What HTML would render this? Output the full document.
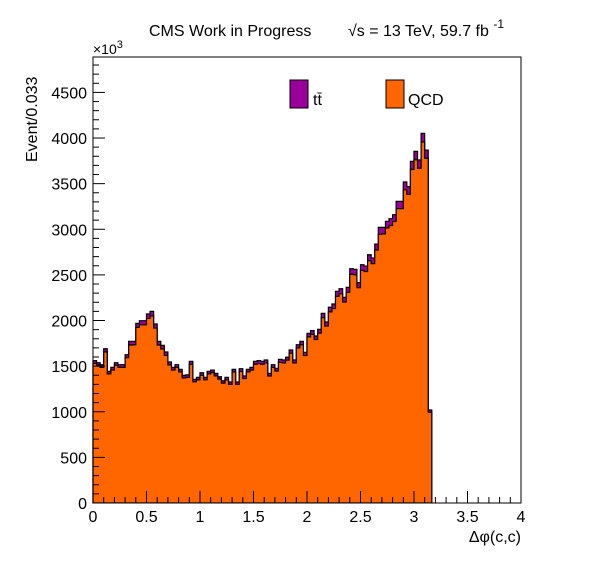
<!DOCTYPE html>
<html><head><meta charset="utf-8"><style>
body{margin:0;background:#fff}
svg{display:block;font-family:"Liberation Sans",sans-serif}
</style></head><body>
<svg id="c" width="596" height="572">
<rect width="596" height="572" fill="#fff"/>
<g id="plot"></g>
<rect x="93" y="57" width="428" height="446" fill="none" stroke="#000" stroke-width="1"/>
<g id="axes"></g>
<text x="149" y="36" font-size="16">CMS Work in Progress</text>
<text x="348" y="36" font-size="16">√s = 13 TeV, 59.7 fb <tspan dy="-8" font-size="12">-1</tspan></text>
<text x="93" y="54" font-size="14">×10<tspan dy="-6" font-size="11">3</tspan></text>
<text transform="translate(37,162) rotate(-90)" font-size="16">Event/0.033</text>
<text x="521" y="542" font-size="16" text-anchor="end">Δφ(c,c)</text>
<g>
<g><rect x="290" y="80" width="18" height="28" fill="#990099" stroke="#000"/><text x="313" y="105" font-size="16">tt̄</text></g>
<g><rect x="386" y="80" width="18" height="28" fill="#ff6600" stroke="#000"/><text x="408" y="105" font-size="16">QCD</text></g>
</g>
</svg>
<script>
const binWidth = 0.03333;
const totals = [1560,1538,1516,1691,1443,1487,1538,1516,1516,1625,1772,1772,1969,1998,1998,2071,2101,1962,1772,1728,1655,1545,1487,1516,1465,1399,1405,1553,1355,1377,1428,1377,1443,1457,1421,1384,1340,1377,1326,1465,1326,1472,1392,1465,1487,1553,1560,
1553,1567,1421,1516,1476,1574,1567,1597,1677,1567,1735,1772,1651,1859,1889,1830,1903,2079,1984,2145,2181,2320,2349,2254,2364,2568,2561,2415,2612,2597,2721,2685,2838,3021,3021,3087,3116,3160,3306,3306,3518,3466,3745,3854,3759,4051,3868,1020];
const ttbar = [30,28,30,35,28,30,30,28,30,32,40,38,45,45,45,48,50,45,40,40,38,32,30,30,28,28,28,32,26,28,28,26,28,28,28,26,26,28,26,28,26,30,28,28,30,32,32,
32,32,30,30,30,32,32,32,35,32,35,38,35,38,40,38,42,48,45,50,50,55,55,52,55,60,60,55,62,60,65,62,65,75,72,72,75,75,80,80,85,82,90,92,90,95,90,25];
const yTicks = [0,500,1000,1500,2000,2500,3000,3500,4000,4500];
const xTicks = [0,0.5,1,1.5,2,2.5,3,3.5,4];
const X0=93,X1=521,Y0=503,Y1=57,xmax=4,ymax=4888;
const sx=v=>X0+v/xmax*(X1-X0);
const sy=v=>Y0-v/ymax*(Y0-Y1);
const NS="http://www.w3.org/2000/svg";
const plot=document.getElementById('plot'),axes=document.getElementById('axes');
function mk(t,a,p){const e=document.createElementNS(NS,t);for(const k in a)e.setAttribute(k,a[k]);p.appendChild(e);return e;}
function step(vals){let d='M'+sx(0)+','+sy(0);vals.forEach((v,i)=>{d+=' L'+sx(i*binWidth)+','+sy(v)+' L'+sx((i+1)*binWidth)+','+sy(v);});d+=' L'+sx(vals.length*binWidth)+','+sy(0);return d;}
const qcd=totals.map((t,i)=>t-ttbar[i]);
const pt=mk('path',{d:step(totals)+' Z',fill:'#990099',stroke:'#000','stroke-width':1.2},plot);


const pq=mk('path',{d:step(qcd)+' Z',fill:'#ff6600',stroke:'#000','stroke-width':1.2},plot);


mk('rect',{x:0,y:Y0+0.5,width:596,height:3,fill:'#fff'},plot);
for(let v=0;v<=4800;v+=100){const y=sy(v);const len=v%500===0?12:6;mk('line',{x1:X0,x2:X0+len,y1:y,y2:y,stroke:'#000'},axes);}
yTicks.forEach(v=>{const t=mk('text',{x:X0-6,y:sy(v)+6,'font-size':16,'text-anchor':'end'},axes);t.textContent=v;

});
for(let i=0;i<=40;i++){const v=i/10;const x=sx(v);const len=i%5===0?12:6;mk('line',{x1:x,x2:x,y1:Y0,y2:Y0-len,stroke:'#000'},axes);}
xTicks.forEach(v=>{const t=mk('text',{x:sx(v),y:522,'font-size':16,'text-anchor':'middle'},axes);t.textContent=v;

});
</script>
</body></html>
